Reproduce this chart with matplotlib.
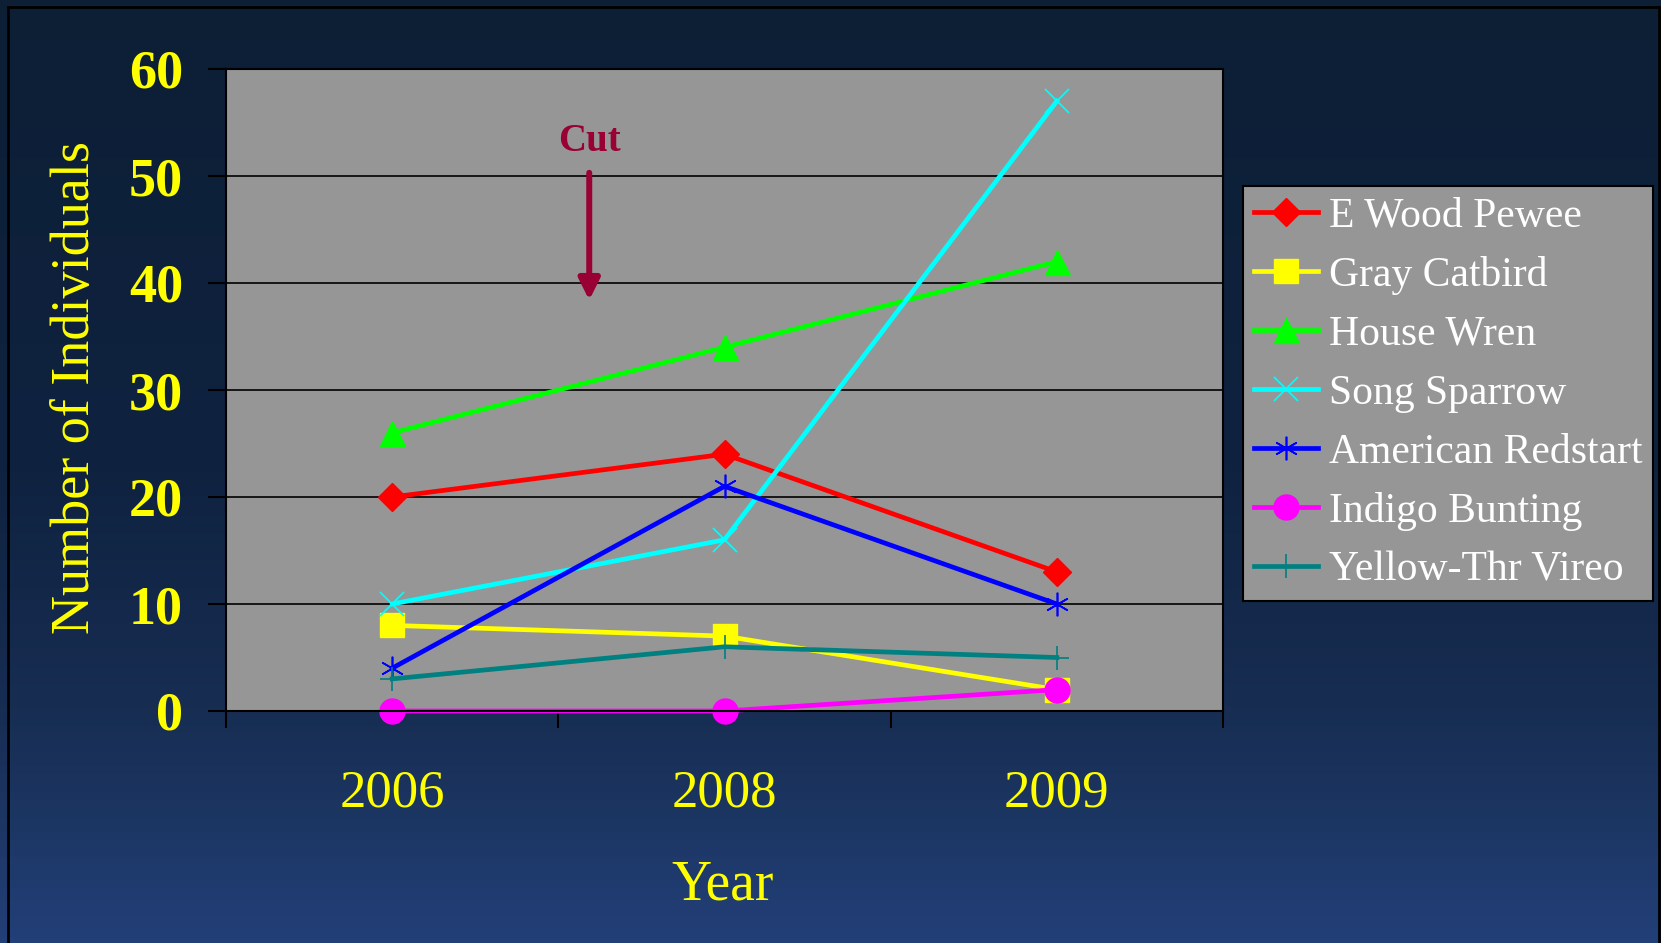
"""
Bird survey chart: number of individuals per species, 2006-2009.
"""

import numpy as np
import matplotlib
matplotlib.use("Agg")
import matplotlib.pyplot as plt
from matplotlib.colors import LinearSegmentedColormap
from matplotlib.patches import Rectangle

plt.rcParams["font.family"] = ["Liberation Serif", "DejaVu Serif"]

# Data
years = ["2006", "2008", "2009"]
species = [
    "E Wood Pewee", "Gray Catbird", "House Wren", "Song Sparrow",
    "American Redstart", "Indigo Bunting", "Yellow-Thr Vireo",
]
e_wood_pewee = [20, 24, 13]
gray_catbird = [8, 7, 2]
house_wren = [26, 34, 42]
song_sparrow = [10, 16, 57]
american_redstart = [4, 21, 10]
indigo_bunting = [0, 0, 2]
yellow_thr_vireo = [3, 6, 5]
y_ticks = [0, 10, 20, 30, 40, 50, 60]

series = [e_wood_pewee, gray_catbird, house_wren, song_sparrow,
          american_redstart, indigo_bunting, yellow_thr_vireo]

# Styling per series: colour, marker, marker size, marker edge width
STYLES = [
    ("#ff0000", "D", 14, 1.0),
    ("#ffff00", "s", 17, 1.0),
    ("#00ff00", "^", 18, 1.0),
    ("#00ffff", "x", 17, 1.2),
    ("#0000ff", (6, 2, 0), 17, 1.2),
    ("#ff00ff", "o", 18, 1.0),
    ("#008080", "+", 17, 1.2),
]

YELLOW = "#ffff00"
W, H = 1661, 943

fig = plt.figure(figsize=(W / 100, H / 100), dpi=100)

# Gradient background (dark navy at top, lighter blue at bottom)
bg = fig.add_axes([0, 0, 1, 1], zorder=-10)
cmap = LinearSegmentedColormap.from_list(
    "bg", [(0.0, "#0d1f35"), (0.5, "#0f2240"), (0.75, "#172d52"),
           (0.87, "#1c3663"), (1.0, "#223f78")])
grad = np.linspace(0, 1, 256).reshape(-1, 1)
bg.imshow(grad, aspect="auto", cmap=cmap, extent=[0, 1, 0, 1], origin="upper")
bg.set_axis_off()

ax = fig.add_axes([226 / W, 232 / H, 997 / W, 642 / H])
ax.set_facecolor("#969696")

x = np.arange(len(years))
for values, label, (color, marker, ms, mew) in zip(series, species, STYLES):
    ax.plot(x, values, color=color, lw=3.4, marker=marker, markersize=ms,
            markerfacecolor=color, markeredgecolor=color, markeredgewidth=mew,
            label=label, clip_on=False)

ax.set_xlim(-0.5, 2.5)
ax.set_ylim(0, 60)

# category boundaries as ticks, labels at the category centres
ax.set_xticks([-0.5, 0.5, 1.5, 2.5])
ax.set_xticklabels([])
ax.set_xticks(x, minor=True)
ax.set_xticklabels(years, minor=True)
ax.tick_params(axis="x", which="major", direction="out", length=12,
               width=1.5, color="black")
ax.tick_params(axis="x", which="minor", length=0, pad=42,
               labelsize=38, labelcolor=YELLOW)

ax.set_yticks(y_ticks)
ax.tick_params(axis="y", direction="out", length=13, width=1.5,
               color="black", pad=18, labelsize=39, labelcolor=YELLOW)
for t in ax.get_yticklabels():
    t.set_fontweight("bold")

ax.yaxis.grid(True, color="black", lw=1.2)
ax.set_axisbelow(True)
for s in ax.spines.values():
    s.set_color("black")
    s.set_linewidth(1.5)

# "Cut" marker
ax.annotate("", xy=(0.593, 38.4), xytext=(0.593, 50.3),
            arrowprops=dict(arrowstyle="-|>,head_length=0.9,head_width=0.45",
                            color="#990033", lw=4.3, mutation_scale=14,
                            shrinkA=0, shrinkB=0))
ax.text(0.593, 53.2, "Cut", ha="center", va="center", color="#990033",
        fontsize=28, fontweight="bold")

fig.text(76 / W, 1 - 387 / H, "Number of Individuals", rotation=90,
         ha="center", va="center", color=YELLOW, fontsize=39)
fig.text(723 / W, 1 - 885 / H, "Year", ha="center", va="center",
         color=YELLOW, fontsize=40)

leg = fig.legend(loc="upper left", bbox_to_anchor=(1243 / W, 1 - 186 / H),
                 borderaxespad=0, fontsize=30, frameon=True, fancybox=False,
                 handlelength=1.54, handletextpad=0.26, labelspacing=0.49,
                 borderpad=0.26, labelcolor="white")
leg.get_frame().set_facecolor("#969696")
leg.get_frame().set_edgecolor("black")
leg.get_frame().set_linewidth(1.5)
leg.get_frame().set_alpha(1)

# thin border around the slide
fig.add_artist(Rectangle((8 / W, -0.01), (1659 - 8) / W, 1.01 - 7 / H,
                         transform=fig.transFigure, fill=False,
                         ec="black", lw=2))

fig.savefig("out.png", dpi=100)
plt.close(fig)
